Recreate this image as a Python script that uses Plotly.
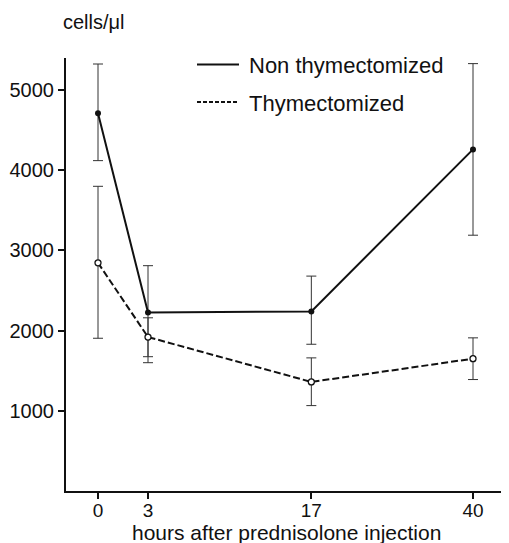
import plotly.graph_objects as go

# ---- data ----
hours = ["0", "3", "17", "40"]            # tick labels
x_pos = [0, 3, 12.8, 22.5]                # positions of the hour ticks along the axis (non-linear spacing in original)

non_mean = [4710, 2225, 2240, 4260]
non_upper = [5325, 2810, 2680, 5330]
non_lower = [4120, 1600, 1830, 3190]

thy_mean = [2845, 1920, 1360, 1650]
thy_upper = [3800, 2160, 1660, 1910]
thy_lower = [1905, 1675, 1065, 1390]

y_ticks = [1000, 2000, 3000, 4000, 5000]

# the page adds an 8px body margin; compensate so the figure lands where the reference is
OFF = 8
W, H = 509 - OFF, 543 - OFF
L, R, T, B = 66 - OFF, 2, 58 - OFF, 52
pw, ph = W - L - R, H - T - B


def px2paper_x(px):
    return (px - OFF - L) / pw


def px2paper_y(py):
    return (H - B - (py - OFF)) / ph


FONT = "Liberation Sans, Arial, Helvetica, sans-serif"

fig = go.Figure()

fig.add_trace(go.Scatter(
    x=x_pos, y=non_mean, mode="lines+markers", name="Non thymectomized",
    line=dict(color="#111", width=2),
    marker=dict(symbol="circle", size=6, color="#111"),
    error_y=dict(type="data", symmetric=False,
                 array=[u - m for u, m in zip(non_upper, non_mean)],
                 arrayminus=[m - l for m, l in zip(non_mean, non_lower)],
                 color="#333", thickness=1, width=5),
    showlegend=False,
))
fig.add_trace(go.Scatter(
    x=x_pos, y=thy_mean, mode="lines+markers", name="Thymectomized",
    line=dict(color="#111", width=2, dash="7px,3px"),
    marker=dict(symbol="circle", size=6, color="white", line=dict(color="#111", width=1.3)),
    error_y=dict(type="data", symmetric=False,
                 array=[u - m for u, m in zip(thy_upper, thy_mean)],
                 arrayminus=[m - l for m, l in zip(thy_mean, thy_lower)],
                 color="#333", thickness=1, width=5),
    showlegend=False,
))

# manual legend (line samples + labels)
legend_items = [("Non thymectomized", "solid", 64.5), ("Thymectomized", "4px,2px", 102)]
for label, dash, py in legend_items:
    fig.add_shape(type="line", xref="paper", yref="paper",
                  x0=px2paper_x(197), x1=px2paper_x(239),
                  y0=px2paper_y(py), y1=px2paper_y(py),
                  line=dict(color="#111", width=2, dash=dash))
    fig.add_annotation(text=label, xref="paper", yref="paper",
                       x=px2paper_x(247), y=px2paper_y(py + 1),
                       xanchor="left", yanchor="middle", showarrow=False,
                       font=dict(family=FONT, size=22, color="#111"))

fig.add_annotation(text="cells/\u03bcl", xref="paper", yref="paper",
                   x=px2paper_x(61), y=px2paper_y(22),
                   xanchor="left", yanchor="middle", showarrow=False,
                   font=dict(family=FONT, size=20, color="#111"))

fig.add_annotation(text="hours after prednisolone injection", xref="paper", yref="paper",
                   x=0.5, y=px2paper_y(532),
                   xanchor="center", yanchor="middle", showarrow=False,
                   font=dict(family=FONT, size=21, color="#111"))

fig.update_layout(
    width=W, height=H,
    margin=dict(l=L, r=R, t=T, b=B, autoexpand=False),
    paper_bgcolor="white", plot_bgcolor="white",
    font=dict(family=FONT, size=20, color="#111"),
    xaxis=dict(range=[-1.92, 24.54], tickmode="array", tickvals=x_pos, ticktext=hours,
               showgrid=False, zeroline=False, showline=True, linecolor="#111", linewidth=2,
               ticks="outside", ticklen=6, tickwidth=2, tickcolor="#111",
               ticklabelstandoff=-5,
               tickfont=dict(family=FONT, size=19, color="#111")),
    yaxis=dict(range=[0, 5400], tickmode="array", tickvals=y_ticks,
               showgrid=False, zeroline=False, showline=True, linecolor="#111", linewidth=2,
               ticks="outside", ticklen=6, tickwidth=2, tickcolor="#111",
               tickfont=dict(family=FONT, size=20, color="#111")),
)

fig.write_html("out.html")
